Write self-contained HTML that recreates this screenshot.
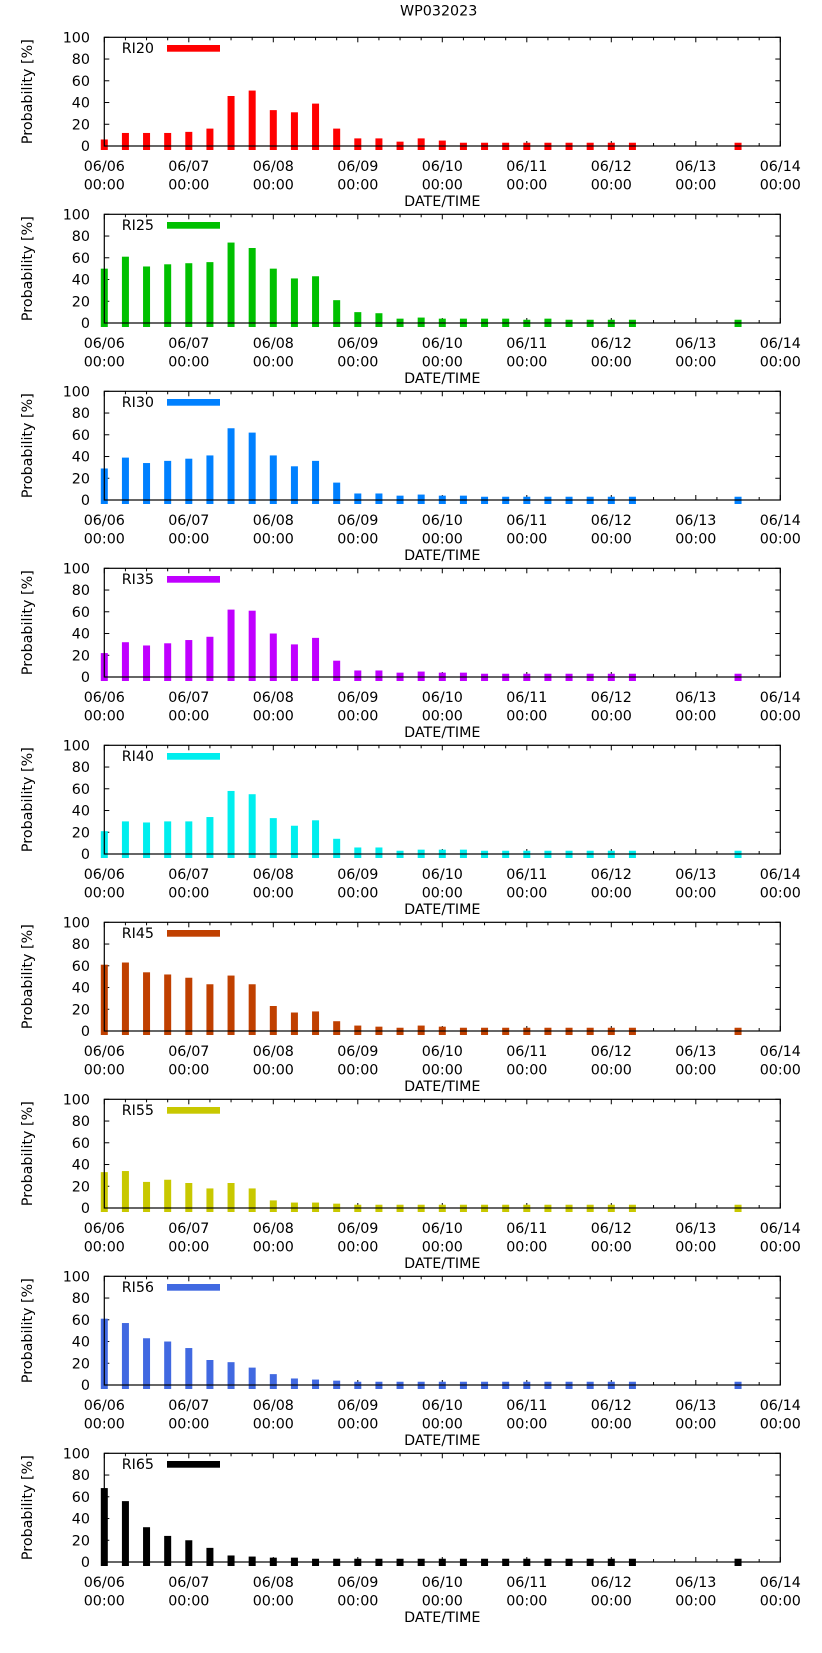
<!DOCTYPE html>
<html><head><meta charset="utf-8"><style>
html,body{margin:0;padding:0;background:#fff;}
svg{display:block;font-family:"DejaVu Sans","Liberation Sans",sans-serif;font-size:14.3px;}
</style></head><body>
<svg id="chart" width="822" height="1653" viewBox="0 0 822 1653">
<text x="400" y="15.5" fill="#000">WP032023</text>
</svg>
<script>
const seriesNames = ["RI20","RI25","RI30","RI35","RI40","RI45","RI55","RI56","RI65"];
const seriesColors = ["#ff0000","#00c000","#0080ff","#c000ff","#00eeee","#c04000","#c8c800","#4169e1","#000000"];
const barIndices = [0,1,2,3,4,5,6,7,8,9,10,11,12,13,14,15,16,17,18,19,20,21,22,23,24,25,30];
const ri20 = [6,12,12,12,13,16,46,51,33,31,39,16,7,7,4,7,5,3,3,3,3,3,3,3,3,3,3];
const ri25 = [50,61,52,54,55,56,74,69,50,41,43,21,10,9,4,5,4,4,4,4,3,4,3,3,3,3,3];
const ri30 = [29,39,34,36,38,41,66,62,41,31,36,16,6,6,4,5,4,4,3,3,3,3,3,3,3,3,3];
const ri35 = [22,32,29,31,34,37,62,61,40,30,36,15,6,6,4,5,4,4,3,3,3,3,3,3,3,3,3];
const ri40 = [21,30,29,30,30,34,58,55,33,26,31,14,6,6,3,4,4,4,3,3,3,3,3,3,3,3,3];
const ri45 = [61,63,54,52,49,43,51,43,23,17,18,9,5,4,3,5,4,3,3,3,3,3,3,3,3,3,3];
const ri55 = [33,34,24,26,23,18,23,18,7,5,5,4,3,3,3,3,3,3,3,3,3,3,3,3,3,3,3];
const ri56 = [61,57,43,40,34,23,21,16,10,6,5,4,3,3,3,3,3,3,3,3,3,3,3,3,3,3,3];
const ri65 = [68,56,32,24,20,13,6,5,4,4,3,3,3,3,3,3,3,3,3,3,3,3,3,3,3,3,3];
const allSeries = [ri20,ri25,ri30,ri35,ri40,ri45,ri55,ri56,ri65];
const yTicks = [0,20,40,60,80,100];
const xTickDates = ["06/06","06/07","06/08","06/09","06/10","06/11","06/12","06/13","06/14"];

const NS="http://www.w3.org/2000/svg";
const svg=document.getElementById('chart');
const X0=104.3, X1=780.3, SLOT=(X1-X0)/32, PH=108.7;
function xOf(i){return X0+i*SLOT;}
function mk(tag,attrs,parent){const e=document.createElementNS(NS,tag);for(const k in attrs)e.setAttribute(k,attrs[k]);(parent||svg).appendChild(e);return e;}

allSeries.forEach((vals,k)=>{
  const top=37.3+177*k, zero=top+PH;
  const yOf=v=>zero-v*PH/100;
  const g=mk('g',{});
  
  
  // y ticks
  yTicks.forEach(t=>{
    const y=yOf(t);
    mk('line',{x1:X0,x2:X0+5,y1:y,y2:y,stroke:'#000'},g);
    mk('line',{x1:X1,x2:X1-5,y1:y,y2:y,stroke:'#000'},g);
    const tl=mk('text',{x:90,y:y+5,'text-anchor':'end',fill:'#000'},g);
    tl.textContent=t;
    
    
  });
  // x ticks
  for(let i=0;i<=32;i++){
    const x=xOf(i), L=(i%4===0)?5:3;
    mk('line',{x1:x,x2:x,y1:zero,y2:zero-L,stroke:'#000'},g);
    mk('line',{x1:x,x2:x,y1:top,y2:top+L,stroke:'#000'},g);
  }
  // bars (over ticks)
  vals.forEach((v,j)=>{
    const cx=xOf(barIndices[j]);
    const r=mk('rect',{x:cx-3.5,y:yOf(v),width:7,height:zero+4-yOf(v),fill:seriesColors[k]},g);
    
    
  });
  // frame
  const fr=mk('rect',{x:X0,y:top,width:X1-X0,height:PH,fill:'none',stroke:'#000','stroke-width':1.2},g);
  
  
  xTickDates.forEach((d,i)=>{
    const x=xOf(i*4);
    const t1=mk('text',{x:x,y:top+133.5,'text-anchor':'middle',fill:'#000'},g);
    t1.textContent=d;
    
    
    const t2=mk('text',{x:x,y:top+152,'text-anchor':'middle',fill:'#000'},g);
    t2.textContent='00:00';
    
    
  });
  const xt=mk('text',{x:(X0+X1)/2,y:top+168.5,'text-anchor':'middle',fill:'#000'},g);
  xt.textContent='DATE/TIME';
  
  
  const cy=top+PH/2;
  const yt=mk('text',{x:32,y:cy,'text-anchor':'middle',fill:'#000',transform:'rotate(-90 32 '+cy+')'},g);
  yt.textContent='Probability [%]';
  
  
  const lt=mk('text',{x:121.7,y:top+15.6,fill:'#000'},g);
  lt.textContent=seriesNames[k];
  
  
  const ls=mk('rect',{x:167,y:top+7.7,width:53,height:6.7,fill:seriesColors[k]},g);
  
  
});
</script>
</body></html>
